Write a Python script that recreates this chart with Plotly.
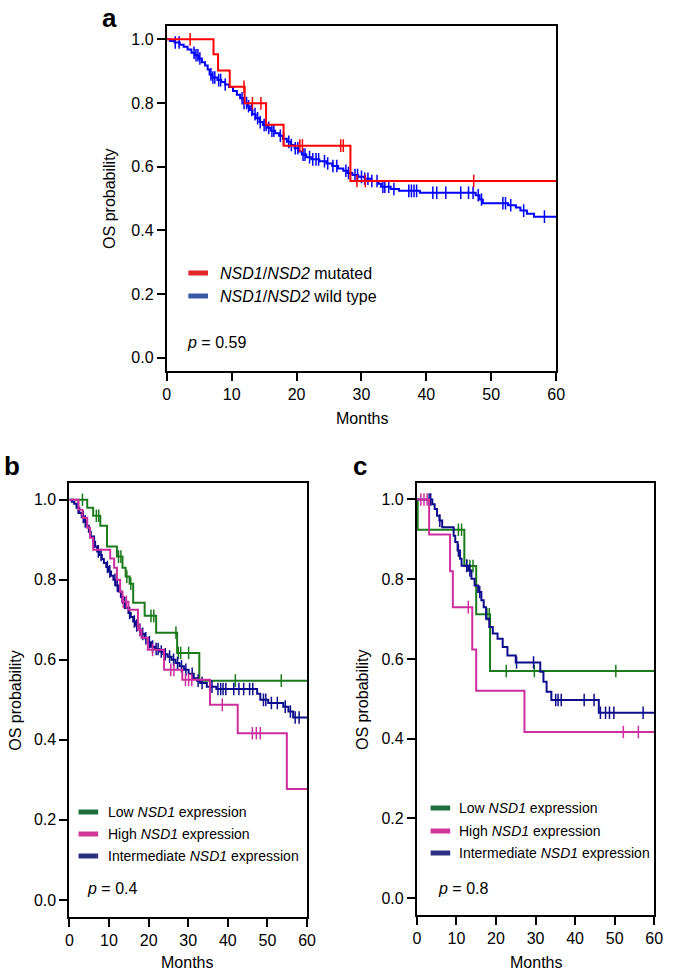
import plotly.graph_objects as go

W, H = 673, 973
FONT = "Arial, Liberation Sans, Helvetica, sans-serif"

# ---------------- data ----------------
# Panel a: NSD1/NSD2 mutated vs wild type
a_mut_t = [7.2, 7.9, 9.7, 12.0, 15.3, 18.0, 28.3]
a_mut_s = [0.953, 0.902, 0.851, 0.799, 0.732, 0.666, 0.555]
a_mut_cens = [3.6, 11.9, 13.2, 14.5, 20.5, 20.9, 26.8, 27.2, 29.3, 30.6, 47.3]

a_wt_t = [0.5, 1.2, 2.0, 2.6, 3.2, 3.8, 4.3, 4.9, 5.4, 5.9, 6.3, 6.6, 7.0, 7.8, 8.4, 9.0,
          9.6, 10.2, 10.8, 11.3, 11.9, 12.4, 12.8, 13.2, 13.7, 14.3, 14.8, 15.4, 16.0,
          16.7, 17.3, 17.9, 18.5, 19.1, 19.7, 20.3, 20.8, 21.5, 22.3, 23.5, 24.6, 25.5,
          26.4, 27.2, 27.8, 28.6, 29.5, 30.5, 31.5, 32.6, 33.0, 34.5, 35.8, 39.0, 47.6,
          48.2, 48.7, 52.6, 53.8, 54.5, 55.5, 56.6]
a_wt_s = [0.995, 0.99, 0.983, 0.977, 0.968, 0.958, 0.95, 0.94, 0.928, 0.918, 0.905, 0.89,
          0.88, 0.872, 0.866, 0.858, 0.85, 0.838, 0.826, 0.815, 0.80, 0.79, 0.778, 0.765,
          0.752, 0.74, 0.731, 0.722, 0.713, 0.705, 0.697, 0.688, 0.678, 0.668, 0.658,
          0.648, 0.638, 0.63, 0.623, 0.617, 0.61, 0.602, 0.594, 0.587, 0.58, 0.574,
          0.568, 0.562, 0.555, 0.546, 0.537, 0.53, 0.524, 0.518, 0.51, 0.497, 0.485,
          0.479, 0.472, 0.462, 0.452, 0.443]
a_wt_cens = [1.3, 1.9, 4.2, 4.5, 4.8, 5.1, 6.8, 7.1, 7.4, 8.0, 8.3, 9.0, 11.6, 11.9, 12.3,
             12.6, 13.1, 13.6, 14.0, 14.4, 15.0, 15.3, 15.7, 16.2, 16.5, 17.5, 18.0, 18.8,
             19.2, 19.8, 20.2, 21.0, 21.3, 22.0, 22.5, 23.0, 23.4, 24.3, 24.8, 25.6, 26.2,
             27.6, 28.0, 29.0, 29.4, 30.0, 30.5, 31.0, 31.6, 32.4, 33.3, 33.6, 34.2, 35.0,
             37.3, 37.7, 38.1, 38.5, 41.0, 41.6, 43.0, 45.3, 46.5, 47.2, 48.0, 48.5, 51.8,
             52.2, 53.0, 55.0, 58.2]

# Panel b: NSD1 expression (cohort 1)
b_low_t = [4.5, 6.0, 7.8, 9.5, 12.0, 13.4, 14.2, 15.2, 16.1, 19.0, 21.9, 27.2, 32.8]
b_low_s = [0.98, 0.96, 0.935, 0.883, 0.858, 0.83, 0.808, 0.79, 0.743, 0.71, 0.668, 0.617, 0.548]
b_low_cens = [3.3, 6.8, 7.4, 12.4, 13.0, 14.5, 15.5, 20.6, 21.3, 26.9, 27.5, 28.1, 30.1, 41.9, 53.5]

b_high_t = [2.3, 3.3, 4.5, 5.2, 6.0, 10.3, 11.3, 12.0, 12.8, 13.4, 14.9, 17.3, 18.2, 19.8,
            23.9, 28.5, 35.5, 42.5, 54.9]
b_high_s = [0.975, 0.955, 0.93, 0.905, 0.875, 0.853, 0.83, 0.80, 0.77, 0.745, 0.725, 0.675,
            0.655, 0.625, 0.575, 0.55, 0.4875, 0.4167, 0.277]
b_high_cens = [13.6, 14.4, 17.8, 21.0, 25.6, 26.4, 29.3, 30.1, 30.9, 38.6, 46.2, 47.2, 48.2]

b_int_t = [0.6, 1.2, 1.8, 2.5, 3.1, 3.7, 4.3, 4.9, 5.4, 6.0, 6.5, 7.0, 7.6, 8.2, 8.7, 9.3,
           9.9, 10.5, 11.1, 11.7, 12.4, 13.0, 13.6, 14.2, 14.9, 15.5, 16.1, 16.7, 17.3,
           18.1, 19.0, 19.8, 20.6, 21.6, 22.7, 23.7, 24.8, 25.8, 26.8, 27.8, 28.9, 30.1,
           31.4, 32.2, 33.0, 34.7, 37.1, 47.4, 48.2, 50.2, 54.0, 55.3, 56.5]
b_int_s = [0.995, 0.99, 0.98, 0.967, 0.957, 0.946, 0.935, 0.92, 0.908, 0.895, 0.883, 0.871,
           0.862, 0.852, 0.842, 0.832, 0.821, 0.81, 0.80, 0.786, 0.771, 0.757, 0.742, 0.73,
           0.717, 0.707, 0.696, 0.686, 0.675, 0.665, 0.654, 0.644, 0.633, 0.627, 0.621,
           0.614, 0.608, 0.60, 0.592, 0.584, 0.575, 0.565, 0.554, 0.548, 0.542, 0.533,
           0.527, 0.515, 0.50, 0.492, 0.483, 0.471, 0.456]
b_int_cens = [2.2, 3.5, 4.0, 6.3, 7.3, 8.0, 9.6, 10.2, 11.5, 12.1, 13.3, 14.0, 15.2, 16.4,
              17.0, 17.8, 18.5, 19.3, 20.2, 21.0, 21.9, 22.4, 23.2, 24.2, 25.3, 26.3, 27.3,
              28.3, 29.4, 31.0, 32.5, 33.5, 36.0, 37.5, 38.2, 38.8, 39.5, 41.5, 42.8, 44.0,
              45.5, 46.3, 49.0, 49.6, 51.0, 52.5, 54.5, 55.8, 57.0, 58.0]

# Panel c: NSD1 expression (cohort 2)
c_low_t = [0.2, 12.0, 15.0, 18.5]
c_low_s = [0.924, 0.833, 0.712, 0.570]
c_low_cens = [10.5, 11.3, 12.6, 13.4, 14.2, 17.7, 18.3, 22.6, 29.7, 50.3]

c_high_t = [3.1, 8.4, 9.1, 14.0, 15.0, 27.2]
c_high_s = [0.912, 0.820, 0.730, 0.624, 0.520, 0.417]
c_high_cens = [1.0, 1.8, 2.6, 13.0, 52.2, 56.0]

c_int_t = [3.9, 4.5, 5.1, 5.7, 6.4, 9.3, 9.7, 10.3, 10.9, 11.3, 13.0, 13.8, 14.6, 15.5,
           16.3, 16.9, 17.5, 18.3, 19.2, 20.4, 21.7, 22.9, 25.0, 31.2, 32.0, 32.8, 34.0, 46.0]
c_int_s = [0.988, 0.976, 0.959, 0.947, 0.93, 0.909, 0.893, 0.872, 0.851, 0.834, 0.822,
           0.801, 0.784, 0.768, 0.747, 0.730, 0.701, 0.680, 0.664, 0.651, 0.630, 0.609,
           0.591, 0.568, 0.543, 0.518, 0.497, 0.465]
c_int_cens = [3.1, 3.5, 5.8, 10.5, 12.6, 13.4, 15.9, 25.2, 29.5, 35.1, 35.7, 36.5, 42.3,
              44.8, 46.4, 47.7, 48.7, 49.8, 57.2]

x_ticks = [0, 10, 20, 30, 40, 50, 60]
y_ticks = [0.0, 0.2, 0.4, 0.6, 0.8, 1.0]

# ---------------- styling ----------------
RED, BLUE = "#FF0000", "#0000FF"
GREEN, MAGENTA, NAVY = "#1B7A1B", "#CC2E9E", "#0D0D8C"
LEG_RED, LEG_BLUE = "#E3262B", "#3B58A6"
LEG_GREEN, LEG_MAGENTA, LEG_NAVY = "#1F6E3B", "#D1369A", "#2E3083"


def px(x):
    return x / W


def py(y):
    return 1 - y / H


def step_xy(t, s):
    return [0] + list(t) + [60], [1.0] + list(s) + [s[-1]]


def surv_at(t, s, c):
    v = 1.0
    for ti, si in zip(t, s):
        if ti <= c:
            v = si
    return v


fig = go.Figure()


def add_km(t, s, cens, color, xa, ya):
    xs, ys = step_xy(t, s)
    fig.add_trace(go.Scatter(x=xs, y=ys, mode="lines", line=dict(color=color, width=2, shape="hv"),
                             xaxis=xa, yaxis=ya, showlegend=False, hoverinfo="skip"))
    fig.add_trace(go.Scatter(x=cens, y=[surv_at(t, s, c) for c in cens], mode="markers",
                             marker=dict(symbol="line-ns", size=9, line=dict(color=color, width=1.5)),
                             xaxis=xa, yaxis=ya, showlegend=False, hoverinfo="skip"))


add_km(a_wt_t, a_wt_s, a_wt_cens, BLUE, "x", "y")
add_km(a_mut_t, a_mut_s, a_mut_cens, RED, "x", "y")

add_km(b_low_t, b_low_s, b_low_cens, GREEN, "x2", "y2")
add_km(b_int_t, b_int_s, b_int_cens, NAVY, "x2", "y2")
add_km(b_high_t, b_high_s, b_high_cens, MAGENTA, "x2", "y2")

add_km(c_low_t, c_low_s, c_low_cens, GREEN, "x3", "y3")
add_km(c_int_t, c_int_s, c_int_cens, NAVY, "x3", "y3")
add_km(c_high_t, c_high_s, c_high_cens, MAGENTA, "x3", "y3")

axis_common = dict(showline=True, linecolor="black", linewidth=2, mirror=True,
                   ticks="outside", ticklen=8, tickwidth=2, tickcolor="black",
                   showgrid=False, zeroline=False,
                   tickfont=dict(family=FONT, size=16, color="black"))

frames = {
    "": ((166, 563), (26, 371)),
    "2": ((66.7, 309), (483, 916.7)),
    "3": ((421, 663), (482.7, 915)),
}
for k, ((x0, x1), (y0, y1)) in frames.items():
    fig.update_layout({
        "xaxis" + k: dict(axis_common, domain=[px(x0), px(x1)], range=[0, 60],
                          tickvals=x_ticks, anchor="y" + k),
        "yaxis" + k: dict(axis_common, domain=[py(y1), py(y0)], range=[-0.042, 1.042],
                          tickvals=y_ticks, tickformat=".1f", anchor="x" + k),
    })

ann = []
shapes = []


def text(x, y, s, size=16, xanchor="center", yanchor="middle", angle=0, bold=False):
    ann.append(dict(x=px(x), y=py(y), xref="paper", yref="paper", text=("<b>%s</b>" % s) if bold else s,
                    showarrow=False, xanchor=xanchor, yanchor=yanchor, textangle=angle,
                    font=dict(family=FONT, size=size, color="black")))


def swatch(x0, x1, y, color):
    shapes.append(dict(type="line", xref="paper", yref="paper", x0=px(x0), x1=px(x1),
                       y0=py(y), y1=py(y), line=dict(color=color, width=5)))


# panel labels
text(108, 1, "a", size=26, bold=True, yanchor="top")
text(8, 466, "b", size=26, bold=True)
text(363, 466, "c", size=26, bold=True)

# axis titles
text(365, 418, "Months")
text(108, 198, "OS probability", angle=-90)
text(187, 973, "Months", yanchor="bottom")
text(11, 700, "OS probability", angle=-90)
text(542, 973, "Months", yanchor="bottom")
text(365, 699, "OS probability", angle=-90)

# legends panel a
swatch(188, 208, 273, LEG_RED)
swatch(188, 208, 296, LEG_BLUE)
text(218, 273, "<i>NSD1</i>/<i>NSD2</i> mutated", xanchor="left")
text(218, 296, "<i>NSD1</i>/<i>NSD2</i> wild type", xanchor="left")
text(185, 342, "<i>p</i> = 0.59", xanchor="left")

# legends panel b
for yy, col, lab in [(812, LEG_GREEN, "Low <i>NSD1</i> expression"),
                     (834, LEG_MAGENTA, "High <i>NSD1</i> expression"),
                     (856, LEG_NAVY, "Intermediate <i>NSD1</i> expression")]:
    swatch(76, 96, yy, col)
    text(104, yy, lab, size=14, xanchor="left")
text(83, 888, "<i>p</i> = 0.4", xanchor="left")

# legends panel c
for yy, col, lab in [(808, LEG_GREEN, "Low <i>NSD1</i> expression"),
                     (831, LEG_MAGENTA, "High <i>NSD1</i> expression"),
                     (853, LEG_NAVY, "Intermediate <i>NSD1</i> expression")]:
    swatch(435, 455, yy, col)
    text(462, yy, lab, size=14, xanchor="left")
text(440, 888, "<i>p</i> = 0.8", xanchor="left")

fig.update_layout(width=W, height=H, margin=dict(l=0, r=0, t=0, b=0),
                  paper_bgcolor="white", plot_bgcolor="white",
                  annotations=ann, shapes=shapes, showlegend=False,
                  font=dict(family=FONT, size=16, color="black"))

fig.write_html("out.html", config={"displayModeBar": False},
               post_script="document.body.style.margin='0';document.body.style.overflow='hidden';")
